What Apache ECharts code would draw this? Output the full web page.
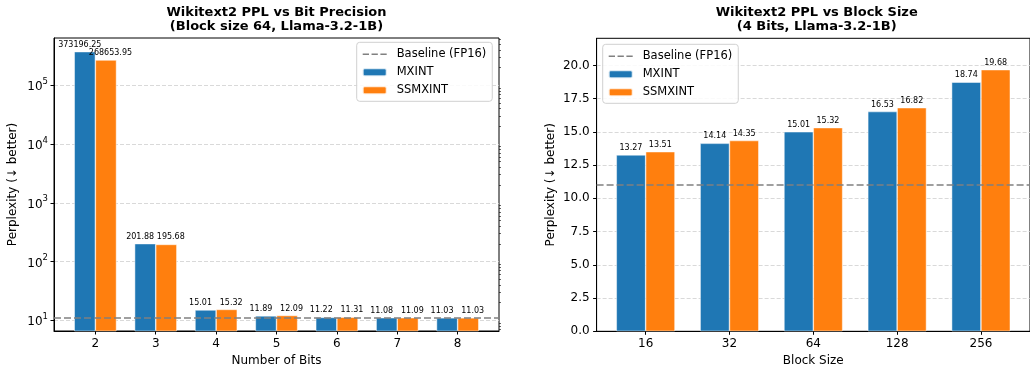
<!DOCTYPE html>
<html><head><meta charset="utf-8">
<script src="https://cdn.jsdelivr.net/npm/echarts@6/dist/echarts.min.js"></script>
<style>html,body{margin:0;padding:0;background:#fff}#c{width:1030px;height:373px}</style>
</head><body><div id="c"></div>
<script>
// ---- data ----
const bits = [2, 3, 4, 5, 6, 7, 8];
const mxintBits = [373196.25, 201.88, 15.01, 11.89, 11.22, 11.08, 11.03];
const ssmxintBits = [268653.95, 195.68, 15.32, 12.09, 11.31, 11.09, 11.03];
const blockSizes = ['16', '32', '64', '128', '256'];
const mxintBlock = [13.27, 14.14, 15.01, 16.53, 18.74];
const ssmxintBlock = [13.51, 14.35, 15.32, 16.82, 19.68];
const baselineFP16 = 10.99;
const logMajorTicks = [10, 100, 1000, 10000, 100000];
const linTicks = [0, 2.5, 5, 7.5, 10, 12.5, 15, 17.5, 20];

// axis decoration: minor log ticks (2..9 x 10^k)
const logMinorTicks = [];
for (let e = 0; e <= 5; e++) for (let m = 2; m <= 9; m++) logMinorTicks.push(m * Math.pow(10, e));

const BLUE = '#1f77b4', ORANGE = '#ff7f0e', TXT = '#000';
const FONT = 'DejaVu Sans';

const logMin = 6.58, logMax = 637000;
const blockIdx = blockSizes.map((_, i) => i);

// dashed-line legend glyph (24 x 8 box, thin dashes through the middle)
const DASH_ICON = 'path://M0,0L0.01,0L0,0.01Z M23.99,8L24,8L24,7.99Z ' +
  'M0,3.25H6.3V4.75H0Z M8.85,3.25H15.15V4.75H8.85Z M17.7,3.25H24V4.75H17.7Z';

function barSeries(name, color, data, xi, yi, offX) {
  return {
    type: 'bar', name, xAxisIndex: xi, yAxisIndex: yi,
    data, barWidth: '35%', barGap: '0%', clip: true,
    itemStyle: { color, borderColor: 'rgba(255,255,255,0.8)', borderWidth: 0.6 },
    label: { show: true, position: 'top', distance: 3, fontSize: 8, fontFamily: FONT, color: TXT,
             offset: [offX, 0], formatter: p => p.value[1].toFixed(2) },
    z: 2
  };
}
function baselineSeries(xi, yi) {
  return {
    type: 'line', name: 'Baseline (FP16)', xAxisIndex: xi, yAxisIndex: yi, data: [],
    symbol: 'none', showSymbol: false, itemStyle: { color: '#808080' },
    lineStyle: { color: '#808080', width: 1.5, type: [6, 3] },
    markLine: { silent: true, symbol: 'none', label: { show: false },
      lineStyle: { color: '#808080', width: 1.5, type: [7, 3] },
      data: [{ yAxis: baselineFP16 }] },
    z: 5
  };
}

const axisLineStyle = { show: true, onZero: false, lineStyle: { color: '#000', width: 1 } };
const splitDash = { show: true, lineStyle: { color: '#cfcfcf', width: 0.8, type: [4, 2] } };

const legendCommon = {
  orient: 'vertical', itemWidth: 24, itemHeight: 8, itemGap: 4,
  textStyle: { fontSize: 11.5, fontFamily: FONT, color: TXT, lineHeight: 14, padding: [0, 0, 0, 5] },
  padding: [5, 6, 4, 5], backgroundColor: 'rgba(255,255,255,0.85)',
  borderColor: '#d0d0d0', borderWidth: 1, borderRadius: 3,
  data: [{ name: 'Baseline (FP16)', icon: DASH_ICON, itemStyle: { color: '#808080', borderWidth: 0 } }, 'MXINT', 'SSMXINT']
};

const option = {
  animation: false,
  title: [
    { text: 'Wikitext2 PPL vs Bit Precision\n(Block size 64, Llama-3.2-1B)', left: 276.5, top: 5,
      textAlign: 'center', padding: 0,
      textStyle: { fontSize: 13, fontWeight: 'bold', fontFamily: FONT, color: TXT, lineHeight: 14.5 } },
    { text: 'Wikitext2 PPL vs Block Size\n(4 Bits, Llama-3.2-1B)', left: 816.7, top: 5,
      textAlign: 'center', padding: 0,
      textStyle: { fontSize: 13, fontWeight: 'bold', fontFamily: FONT, color: TXT, lineHeight: 14.5 } }
  ],
  legend: [
    Object.assign({}, legendCommon, { left: 356.7, top: 42.3 }),
    Object.assign({}, legendCommon, { left: 602.7, top: 44.3 })
  ],
  grid: [
    { left: 54, top: 38, width: 445, height: 293, show: true, borderColor: '#000', borderWidth: 1, backgroundColor: 'transparent' },
    { left: 596.6, top: 38.3, width: 440.2, height: 293, show: true, borderColor: '#000', borderWidth: 1, backgroundColor: 'transparent' }
  ],
  xAxis: [
    { type: 'value', gridIndex: 0, min: 1.315, max: 8.685,
      name: 'Number of Bits', nameLocation: 'middle', nameGap: 24,
      nameTextStyle: { fontSize: 12, fontFamily: FONT, color: TXT },
      axisLine: axisLineStyle, splitLine: { show: false },
      axisTick: { show: true, length: 3.5, customValues: bits, lineStyle: { color: '#000' } },
      axisLabel: { customValues: bits, fontSize: 12, fontFamily: FONT, color: TXT, margin: 7 } },
    { type: 'value', gridIndex: 1, min: -0.585, max: 4.585,
      name: 'Block Size', nameLocation: 'middle', nameGap: 24,
      nameTextStyle: { fontSize: 12, fontFamily: FONT, color: TXT },
      axisLine: axisLineStyle, splitLine: { show: false },
      axisTick: { show: true, length: 3.5, customValues: blockIdx, lineStyle: { color: '#000' } },
      axisLabel: { customValues: blockIdx, formatter: v => blockSizes[Math.round(v)], fontSize: 12, fontFamily: FONT, color: TXT, margin: 7 } }
  ],
  yAxis: [
    { type: 'log', logBase: 10, gridIndex: 0, min: logMin, max: logMax,
      name: 'Perplexity (↓ better)', nameLocation: 'middle', nameGap: 35,
      nameTextStyle: { fontSize: 12, fontFamily: FONT, color: TXT },
      axisLine: axisLineStyle, splitLine: splitDash,
      axisTick: { show: true, length: 3.5, customValues: logMajorTicks, lineStyle: { color: '#000' } },
      axisLabel: { customValues: logMajorTicks, margin: 6,
        formatter: v => '{b|10}{s|' + Math.round(Math.log10(v)) + '}',
        rich: { b: { fontSize: 12, fontFamily: FONT, color: TXT, verticalAlign: 'bottom', lineHeight: 16 },
                s: { fontSize: 8.5, fontFamily: FONT, color: TXT, verticalAlign: 'top', lineHeight: 10 } } } },
    { type: 'log', logBase: 10, gridIndex: 0, min: logMin, max: logMax,
      axisLine: { show: false }, splitLine: { show: false }, axisLabel: { show: false },
      axisTick: { show: true, length: 2, customValues: logMinorTicks, lineStyle: { color: '#000', width: 0.6 } } },
    { type: 'value', gridIndex: 1, min: 0, max: 22.04, interval: 2.5,
      name: 'Perplexity (↓ better)', nameLocation: 'middle', nameGap: 40,
      nameTextStyle: { fontSize: 12, fontFamily: FONT, color: TXT },
      axisLine: axisLineStyle, splitLine: splitDash,
      axisTick: { show: true, length: 3.5, customValues: linTicks, lineStyle: { color: '#000' } },
      axisLabel: { customValues: linTicks, formatter: v => v.toFixed(1), fontSize: 12, fontFamily: FONT, color: TXT, margin: 7 } }
  ],
  series: [
    baselineSeries(0, 0),
    barSeries('MXINT', BLUE, bits.map((b, i) => [b, mxintBits[i]]), 0, 0, -5),
    barSeries('SSMXINT', ORANGE, bits.map((b, i) => [b, ssmxintBits[i]]), 0, 0, 4.5),
    baselineSeries(1, 2),
    barSeries('MXINT', BLUE, blockIdx.map(i => [i, mxintBlock[i]]), 1, 2, 0),
    barSeries('SSMXINT', ORANGE, blockIdx.map(i => [i, ssmxintBlock[i]]), 1, 2, 0)
  ]
};
echarts.init(document.getElementById('c'), null, { renderer: 'canvas' }).setOption(option);
</script></body></html>
